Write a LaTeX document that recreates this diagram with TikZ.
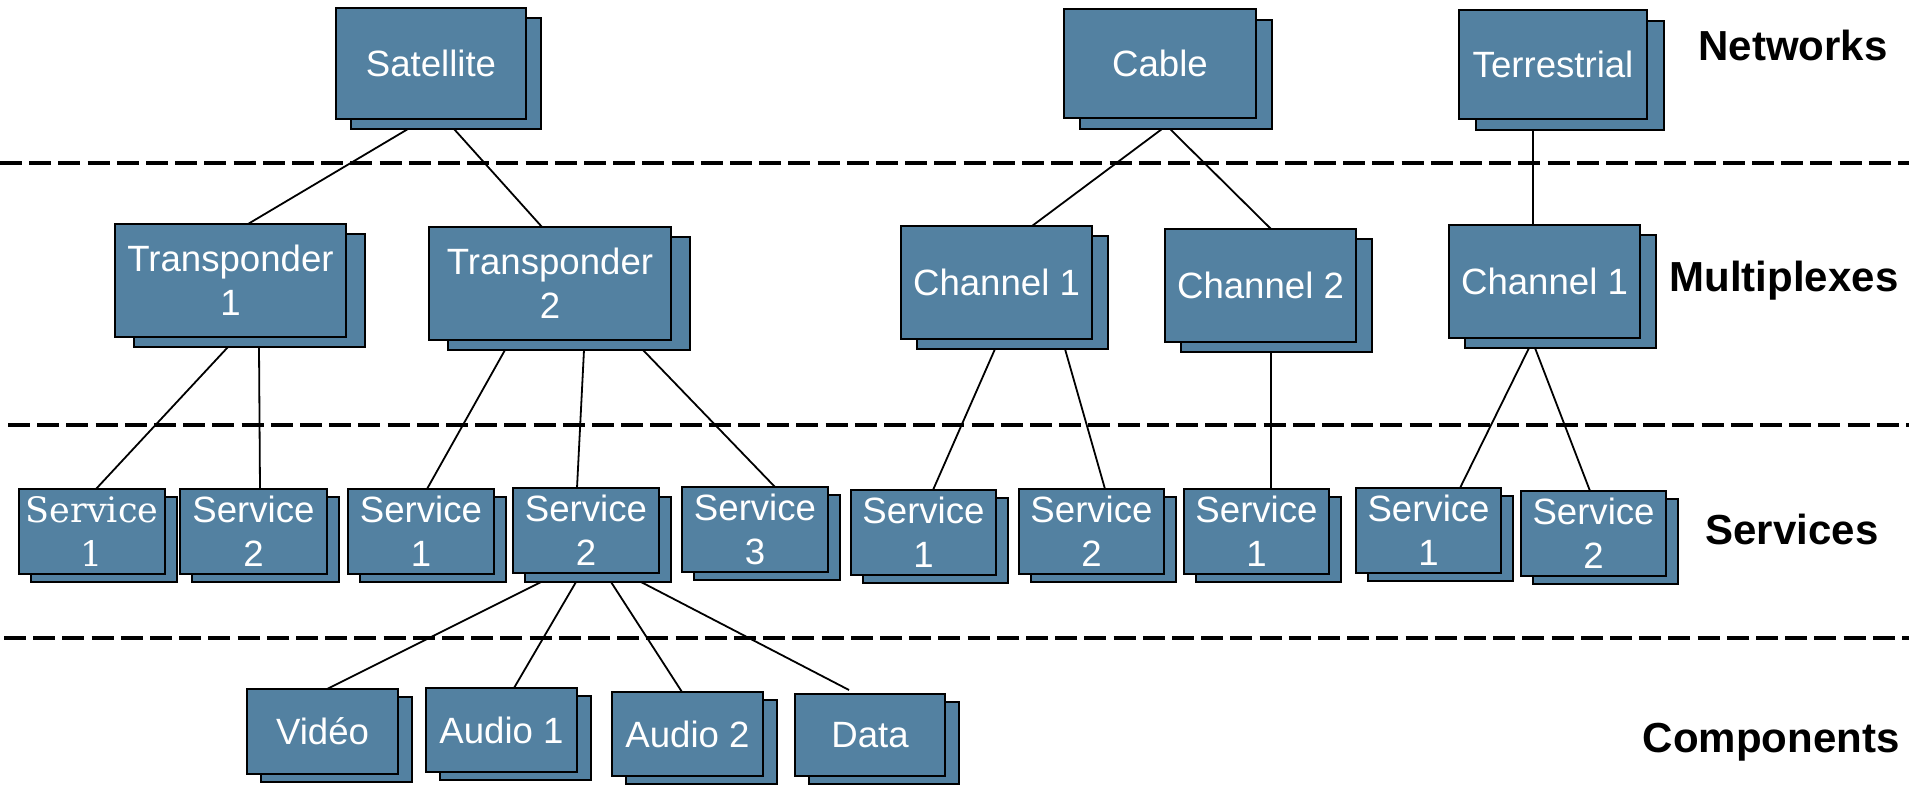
\documentclass[tikz,border=0pt]{standalone}
\usepackage{fontspec}
\setmainfont{Liberation Sans}
\newfontfamily\svcserif{DejaVu Serif}
\usetikzlibrary{calc}
\definecolor{boxblue}{RGB}{83,129,161}
\tikzset{
  boxshape/.style={draw=black, line width=1.2pt, fill=boxblue, inner sep=0pt, outer sep=0pt},
  frontbox/.style={boxshape, text=white, align=center, font=\fontsize{18.3}{22}\selectfont},
  link/.style={line width=0.9pt},
  layerline/.style={line width=1.65pt, dash pattern=on 11pt off 3.6pt},
  layerlabel/.style={anchor=base, font=\bfseries\fontsize{21}{24}\selectfont},
}
% [front options]{name}{x1}{y1}{x2}{y2}{dx}{dy}{text}
\newcommand\dbox[9][]{%
  \pgfmathsetmacro\bw{(#5-#3)*0.5}%
  \pgfmathsetmacro\bh{(#6-#4)*0.5}%
  \pgfmathsetmacro\bx{(#3+#5)/2}%
  \pgfmathsetmacro\by{(#4+#6)/2}%
  \node[boxshape, minimum width=\bw pt, minimum height=\bh pt] (#2S) at (\bx+#7,\by+#8) {};
  \node[frontbox, minimum width=\bw pt, minimum height=\bh pt, #1] (#2) at (\bx,\by) {#9};
}
\begin{document}
\begin{tikzpicture}[x=0.5pt,y=-0.5pt]
\useasboundingbox (0,0) rectangle (1909,785);

% layer separators
\draw[layerline] (0,163) -- (1909,163);
\draw[layerline] (8,425) -- (1909,425);
\draw[layerline] (4,638) -- (1909,638);

% networks
\dbox{sat}{336}{8}{526}{119}{15}{10}{Satellite}
\dbox{cab}{1064}{9}{1256}{118}{16}{11}{Cable}
\dbox{ter}{1459}{10}{1647}{119}{17}{11}{Terrestrial}

% multiplexes
\dbox{tpa}{115}{224}{346}{337}{19}{10}{Transponder\\1}
\dbox{tpb}{429}{227}{671}{340}{19}{10}{Transponder\\2}
\dbox{cca}{901}{226}{1092}{339}{16}{10}{Channel 1}
\dbox{ccb}{1165}{229}{1356}{342}{16}{10}{Channel 2}
\dbox{tca}{1449}{225}{1640}{338}{16}{10}{Channel 1}

% services
\dbox[font=\svcserif\fontsize{17.5}{22}\selectfont]{sa}{19}{489}{165}{574}{12}{8}{Service\\1}
\dbox{sb}{180}{489}{327}{574}{12}{8}{Service\\2}
\dbox{sc}{348}{489}{494}{574}{12}{8}{Service\\1}
\dbox{sd}{513}{488}{659}{573}{12}{9}{Service\\2}
\dbox{se}{682}{487}{828}{572}{12}{8}{Service\\3}
\dbox{sf}{851}{490}{996}{575}{12}{8}{Service\\1}
\dbox{sg}{1019}{489}{1164}{574}{12}{8}{Service\\2}
\dbox{sh}{1184}{489}{1329}{574}{12}{8}{Service\\1}
\dbox{si}{1356}{488}{1501}{573}{12}{8}{Service\\1}
\dbox{sj}{1521}{491}{1666}{576}{12}{8}{Service\\2}

% components
\dbox{cv}{247}{689}{398}{774}{14}{8}{Vidéo}
\dbox{ca}{426}{688}{577}{772}{14}{8}{Audio 1}
\dbox{cb}{612}{692}{763}{776}{14}{8}{Audio 2}
\dbox{cd}{795}{694}{945}{776}{14}{8}{Data}

% connectors: networks -> multiplexes
\draw[link] ($(satS.south)+(-38,0)$) -- ($(tpa.north)+(17.5,0)$);
\draw[link] ($(satS.south)+(8,0)$) -- ($(tpb.north)+(-8,0)$);
\draw[link] ($(cabS.south)+(-14,0)$) -- ($(cca.north)+(35.5,0)$);
\draw[link] ($(cabS.south)+(-6,0)$) -- ($(ccb.north)+(10.5,0)$);
\draw[link] ($(terS.south)+(-37,0)$) -- ($(tca.north)+(-11.5,0)$);

% multiplexes -> services
\draw[link] ($(tpaS.south)+(-21.5,0)$) -- ($(sa.north)+(4,0)$);
\draw[link] ($(tpaS.south)+(9.5,0)$) -- ($(sb.north)+(6.5,0)$);
\draw[link] ($(tpbS.south)+(-64,0)$) -- ($(sc.north)+(6,0)$);
\draw[link] ($(tpbS.south)+(15,0)$) -- ($(sd.north)+(-9,0)$);
\draw[link] ($(tpbS.south)+(74,0)$) -- ($(se.north)+(20,0)$);
\draw[link] ($(ccaS.south)+(-17.5,0)$) -- ($(sf.north)+(9.5,0)$);
\draw[link] ($(ccaS.south)+(52.5,0)$) -- ($(sg.north)+(13.5,0)$);
\draw[link] ($(ccbS.south)+(-5.5,0)$) -- ($(sh.north)+(14.5,0)$);
\draw[link] ($(tcaS.south)+(-31.5,0)$) -- ($(si.north)+(31.5,0)$);
\draw[link] ($(tcaS.south)+(-25.5,0)$) -- ($(sj.north)+(-3.5,0)$);

% services -> components
\draw[link] ($(sdS.south)+(-57,0)$) -- ($(cv.north)+(4.5,0)$);
\draw[link] ($(sdS.south)+(-22,0)$) -- ($(ca.north)+(12.5,0)$);
\draw[link] ($(sdS.south)+(13,0)$) -- ($(cb.north)+(-5.5,0)$);
\draw[link] ($(sdS.south)+(43,0)$) -- ($(cd.north)+(-21,-4)$);

% layer labels
\node[layerlabel] (lnet) at (1793,61) {Networks};
\node[layerlabel] (lmux) at (1784,292) {Multiplexes};
\node[layerlabel] (lsvc) at (1792,544) {Services};
\node[layerlabel] (lcmp) at (1771,752) {Components};
\end{tikzpicture}
\end{document}
